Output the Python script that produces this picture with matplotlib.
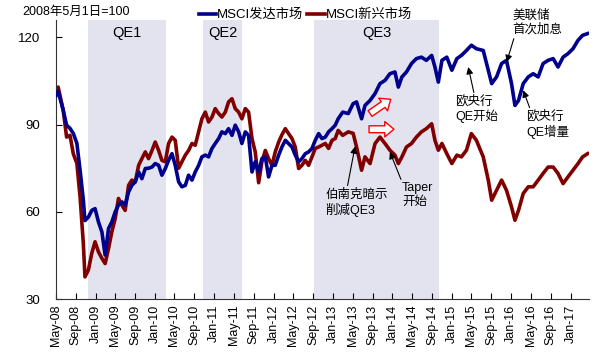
import matplotlib
matplotlib.use('Agg')
import matplotlib.pyplot as plt
import matplotlib.dates as mdates
import pandas as pd

# 数据读自原图（2008年5月1日=100）
dates = ['2008-05-02', '2008-05-16', '2008-06-16', '2008-07-07', '2008-07-28', '2008-08-17',
         '2008-09-08', '2008-09-28', '2008-10-18', '2008-10-28', '2008-11-18', '2008-12-09',
         # 2009 - 2012
         '2008-12-29', '2009-01-19', '2009-02-09', '2009-03-01', '2009-03-22', '2009-04-11',
         '2009-05-02', '2009-05-22', '2009-06-12', '2009-07-02', '2009-07-23', '2009-08-12',
         '2009-09-02', '2009-09-23', '2009-10-13', '2009-11-03', '2009-11-23', '2009-12-14',
         '2010-01-03', '2010-01-24', '2010-02-13', '2010-03-06', '2010-03-26', '2010-04-16',
         '2010-05-06', '2010-05-27', '2010-06-16', '2010-07-07', '2010-07-27', '2010-08-17',
         '2010-09-06', '2010-09-27', '2010-10-17', '2010-11-07', '2010-11-27', '2010-12-18',
         '2011-01-07', '2011-01-28', '2011-02-17', '2011-03-10', '2011-03-30', '2011-04-20',
         '2011-05-10', '2011-05-31', '2011-06-20', '2011-07-11', '2011-07-31', '2011-08-21',
         '2011-09-10', '2011-10-01', '2011-10-21', '2011-11-11', '2011-12-01', '2011-12-22',
         '2012-01-11', '2012-02-01', '2012-02-21', '2012-03-13', '2012-04-02', '2012-04-23',
         '2012-05-13', '2012-06-03', '2012-06-23', '2012-07-14', '2012-08-03', '2012-08-24',
         '2012-09-13', '2012-10-04', '2012-10-24', '2012-11-14', '2012-12-04', '2012-12-25',
         '2013-01-14',
         # 2013 - 2017
         '2013-02-01', '2013-03-01',
         '2013-04-04', '2013-05-04', '2013-05-25', '2013-06-25', '2013-07-16', '2013-08-16',
         '2013-09-16', '2013-10-16', '2013-11-16', '2013-12-16', '2014-01-16', '2014-02-06',
         '2014-02-28', '2014-03-28', '2014-04-28', '2014-05-28', '2014-06-28', '2014-07-28',
         '2014-08-30', '2014-09-19', '2014-10-10', '2014-11-01', '2014-12-01', '2015-01-01',
         '2015-02-01', '2015-03-01', '2015-04-01', '2015-05-01', '2015-06-01', '2015-07-13',
         '2015-08-13', '2015-09-03', '2015-10-03', '2015-11-03', '2015-12-03', '2016-01-03',
         '2016-01-24', '2016-02-15', '2016-03-15', '2016-04-15', '2016-05-15', '2016-06-15',
         '2016-07-15', '2016-08-15', '2016-09-15', '2016-10-15', '2016-11-15', '2016-12-15',
         '2017-01-15', '2017-02-15', '2017-03-15', '2017-04-15']

developed = [100, 101.5, 95, 89.8, 88.7, 87, 83.6, 74.3, 64, 57, 58.2, 60.5,
             61.1, 56.5, 53.1, 45.1, 54.3, 56.5, 60, 62.3, 63.4, 62.3, 66.8, 69.1,
             70.3, 73.7, 71.4, 74.9, 75, 75.4, 76.6, 76, 72.6, 74.9, 77.7, 80,
             76, 70.3, 68.6, 69.1, 72.6, 70.9, 73.7, 76, 78.9, 79.5, 78.9, 81.8,
             83.5, 85.2, 87.5, 86.9, 88.6, 86.3, 89.8, 87.5, 83.5, 87.5, 86.3, 73.7,
             77.2, 73.7, 78.3, 78.9, 72, 76, 76, 79.5, 82.3, 84.6, 83.5, 82.3,
             79.5, 77.2, 78.3, 80, 80.6, 81.8, 84.6, 86.9, 85.2, 85.7, 87.5, 88.6,
             89.8,
             92, 94.3,
             93.8, 97.2, 97.8, 92, 96.6, 98.3,
             100.7, 104.1, 105.2, 107.5, 108.1, 102.9, 106.4, 108.1, 111, 112.7, 113.2, 112.1,
             113.8, 109.8, 104.6, 112.1, 113.2, 108.7, 112.7, 113.8, 115.5, 117.3, 116.1, 115.5,
             108.7, 104.1, 106.4, 111, 112.1, 104.1, 96.6, 98.3, 104.1, 106.4, 107.5, 106.4,
             111, 112.1, 112.7, 109.8, 113.2, 114.4, 116.1, 119, 120.7, 121.3]

emerging = [100, 102.9, 95, 85.7, 86.3, 80, 76.7, 65, 49, 37.6, 40, 45.8,
            49.7, 46.2, 44, 42.2, 47.4, 53.1, 57.7, 64.6, 62.3, 60.5, 69.1, 70.9,
            70.3, 76, 78.3, 80.6, 78.3, 81.1, 84, 81.1, 77.7, 77.2, 83.5, 85.7,
            84.6, 75, 77.2, 79.5, 81.1, 83.5, 82.9, 87.5, 92, 94.3, 90.9, 92.6,
            95.5, 93.8, 92.6, 94.3, 97.8, 98.9, 95.5, 94.3, 92, 95.5, 94.3, 85.2,
            80.6, 70, 77.2, 81.1, 78.3, 76, 80.6, 84, 86.5, 88.6, 86.9, 85.2,
            82.3, 74.9, 76, 77.7, 76, 78.9, 81.8, 82.3, 82.9, 83.5, 81.8, 84.6,
            85.2,
            88, 86.3,
            87.5, 87, 82.3, 74.3, 78.9, 76.6,
            83.5, 85.7, 83.5, 81.2, 79.5, 76.6, 78.9, 82.3, 83.5, 85.7, 87.5, 88.6,
            90.3, 84.6, 81.2, 83.5, 80, 76.6, 79.5, 78.9, 81.2, 86.9, 84.6, 78.9,
            70.9, 64, 67.4, 70.9, 67.4, 61.7, 57.1, 60.5, 66.3, 68.6, 68.6, 70.9,
            73.2, 75.4, 75.4, 73.2, 69.7, 72, 74.3, 76.6, 78.9, 80]

# QE 时段
qe_names = ['QE1', 'QE2', 'QE3']
qe_start = ['2008-11-16', '2010-10-26', '2012-09-06']
qe_end = ['2010-03-10', '2011-06-19', '2014-10-14']

x_ticks = pd.date_range('2008-05-01', '2017-01-01', freq='4MS')

plt.rcParams['font.family'] = ['Liberation Sans', 'Noto Sans CJK SC']

d = pd.to_datetime(dates)
fig = plt.figure(figsize=(5.99, 3.56), dpi=100)
ax = fig.add_axes([0.093, 0.160, 0.891, 0.784])

for name, s, e in zip(qe_names, qe_start, qe_end):
    s, e = pd.Timestamp(s), pd.Timestamp(e)
    ax.axvspan(s, e, color='#e3e3ef', lw=0, zorder=0)
    ax.text(s + (e - s) / 2, 121.6, name, ha='center', va='center', fontsize=10.5)

ax.plot(d, developed, color='#00008c', lw=2.6, label='MSCI发达市场', zorder=3)
ax.plot(d, emerging, color='#800000', lw=2.6, label='MSCI新兴市场', zorder=2)

ax.set_xlim(pd.Timestamp('2008-05-01'), pd.Timestamp('2017-04-26'))
ax.set_ylim(30, 126)
ax.set_yticks([30, 60, 90, 120])
ax.set_xticks(x_ticks)
ax.xaxis.set_major_formatter(mdates.DateFormatter('%b-%y'))
ax.tick_params(axis='x', direction='in', length=4, pad=4, labelsize=9, rotation=90)
ax.tick_params(axis='y', direction='in', length=4, pad=11, labelsize=9.5)
for side in ['top', 'right']:
    ax.spines[side].set_visible(False)
for side in ['left', 'bottom']:
    ax.spines[side].set_color('#333333')

fig.legend(loc='center', bbox_to_anchor=(0.51, 0.958), ncol=2, frameon=False,
           fontsize=9.5, handlelength=1.3, handletextpad=0.1, columnspacing=0.3,
           borderaxespad=0)
fig.text(0.037, 0.966, '2008年5月1日=100', fontsize=9, va='center', ha='left')

arrow = dict(arrowstyle='-|>', color='black', lw=0.8, mutation_scale=10, shrinkA=0, shrinkB=0)

def note(txt, xy, xytext, relpos):
    a = dict(arrow, relpos=relpos)
    ax.annotate(txt, xy=(mdates.datestr2num(xy[0]), xy[1]),
                xytext=(mdates.datestr2num(xytext[0]), xytext[1]),
                ha='left', va='top', fontsize=9, linespacing=1.2,
                arrowprops=a, annotation_clip=False, zorder=5)

note('伯南克暗示\n削减QE3', ('2013-05-16', 82.5), ('2012-11-13', 68.1), (0.35, 1))
note('Taper\n开始', ('2013-12-16', 80.6), ('2014-03-01', 70.2), (0.0, 1))
note('欧央行\nQE开始', ('2015-04-12', 109.8), ('2015-01-21', 100.1), (0.45, 1))
note('美联储\n首次加息', ('2015-12-04', 111.5), ('2016-01-07', 129.6), (0.05, 0))
note('欧央行\nQE增量', ('2016-03-15', 101.8), ('2016-04-03', 94.9), (0.1, 1))

hollow = dict(arrowstyle='simple,head_length=0.6,head_width=1.0,tail_width=0.45',
              fc='white', ec='red', lw=1, mutation_scale=11, shrinkA=0, shrinkB=0)
ax.annotate('', xy=(mdates.datestr2num('2013-12-21'), 98.7),
            xytext=(mdates.datestr2num('2013-08-16'), 93.8), arrowprops=hollow)
ax.annotate('', xy=(mdates.datestr2num('2014-01-10'), 88.4),
            xytext=(mdates.datestr2num('2013-08-10'), 88.4), arrowprops=hollow)

fig.savefig('out.png', dpi=100)
